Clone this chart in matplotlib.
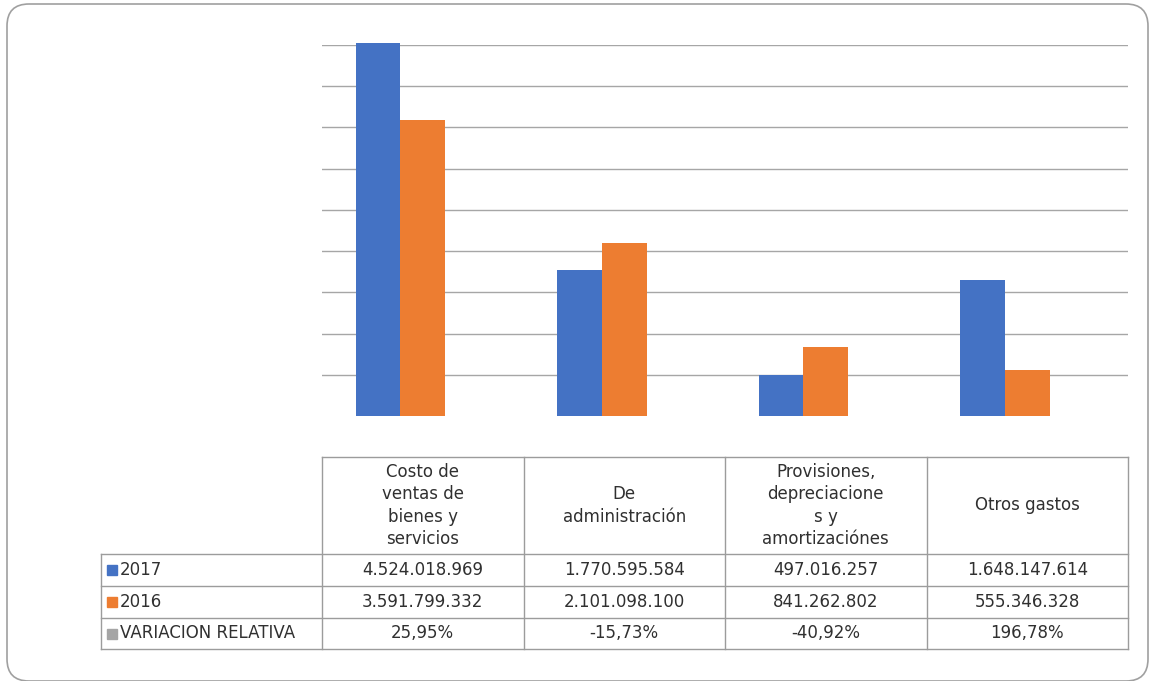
import numpy as np
import matplotlib
matplotlib.use("Agg")
import matplotlib.pyplot as plt
from matplotlib.lines import Line2D
from matplotlib.patches import FancyBboxPatch, Rectangle

# data
categories = ["Costo de\nventas de\nbienes y\nservicios",
              "De\nadministración",
              "Provisiones,\ndepreciacione\ns y\namortizaciónes",
              "Otros gastos"]
series_names = ["2017", "2016", "VARIACION RELATIVA"]
values_2017 = [4524018969, 1770595584, 497016257, 1648147614]
values_2016 = [3591799332, 2101098100, 841262802, 555346328]
variacion_pct = [25.95, -15.73, -40.92, 196.78]

colors = ["#4472C4", "#ED7D31", "#A5A5A5"]
grid_c = "#A6A6A6"
line_c = "#9C9C9C"
text_c = "#303030"

W, H = 1150, 681
def fx(x):
    return x / W
def fy(y):
    return 1 - y / H

plt.rcParams['font.family'] = ['DejaVu Sans']
fig = plt.figure(figsize=(W / 100, H / 100), dpi=100)

# rounded chart border
border = FancyBboxPatch((0.07, 0.0), 11.41, 6.77,
                        boxstyle="round,pad=0,rounding_size=0.22",
                        transform=fig.dpi_scale_trans, fill=False,
                        edgecolor="#A0A0A0", linewidth=1.2)
fig.patches.append(border)

# plot area
pl, pr, pt, pb = 322, 1128, 45, 416
ax = fig.add_axes([fx(pl), fy(pb), fx(pr) - fx(pl), (pb - pt) / H])
x = np.arange(len(categories))
w = 0.221
ax.bar(x - w, values_2017, w, color=colors[0], zorder=3)
ax.bar(x, values_2016, w, color=colors[1], zorder=3)
ax.bar(x + w, [v / 100 for v in variacion_pct], w, color=colors[2], zorder=3)
ax.set_xlim(-0.5, len(categories) - 0.5)
ax.set_ylim(0, 4.5e9)
ax.set_yticks(np.arange(0.5e9, 4.51e9, 0.5e9))
ax.yaxis.grid(True, color=grid_c, linewidth=1)
ax.set_axisbelow(True)
for s in ax.spines.values():
    s.set_visible(False)
ax.tick_params(left=False, bottom=False, labelleft=False, labelbottom=False)
for p in ax.patches:
    p.set_clip_on(False)

# data table
fs = 12
col_w = (pr - pl) / len(categories)
col_edges = [pl + i * col_w for i in range(len(categories) + 1)]
row_edges = [457, 554, 586, 618, 649]
tl = 101

def hline(x0, x1, y):
    fig.add_artist(Line2D([fx(x0), fx(x1)], [fy(y), fy(y)], color=line_c, lw=1))
def vline(x, y0, y1):
    fig.add_artist(Line2D([fx(x), fx(x)], [fy(y0), fy(y1)], color=line_c, lw=1))

hline(pl, pr, row_edges[0])
for y in row_edges[1:]:
    hline(tl, pr, y)
for xe in col_edges:
    vline(xe, row_edges[0], row_edges[-1])
vline(tl, row_edges[1], row_edges[-1])

for i, cat in enumerate(categories):
    cx = (col_edges[i] + col_edges[i + 1]) / 2
    fig.text(fx(cx), fy((row_edges[0] + row_edges[1]) / 2), cat,
             ha="center", va="center", fontsize=fs, linespacing=1.32, color=text_c)

def fmt_int(v):
    return f"{v:,}".replace(",", ".")
def fmt_pct(v):
    return f"{v:.2f}%".replace(".", ",")

rows = [[fmt_int(v) for v in values_2017],
        [fmt_int(v) for v in values_2016],
        [fmt_pct(v) for v in variacion_pct]]

for r, (name, cells) in enumerate(zip(series_names, rows)):
    cy = (row_edges[r + 1] + row_edges[r + 2]) / 2
    sq = 10
    fig.add_artist(Rectangle((fx(107), fy(cy + sq / 2)), sq / W, sq / H,
                             color=colors[r], transform=fig.transFigure))
    fig.text(fx(120), fy(cy), name, ha="left", va="center", fontsize=fs, color=text_c)
    for i, c in enumerate(cells):
        cx = (col_edges[i] + col_edges[i + 1]) / 2
        fig.text(fx(cx), fy(cy), c, ha="center", va="center", fontsize=fs, color=text_c)

fig.savefig("out.png", dpi=100)
